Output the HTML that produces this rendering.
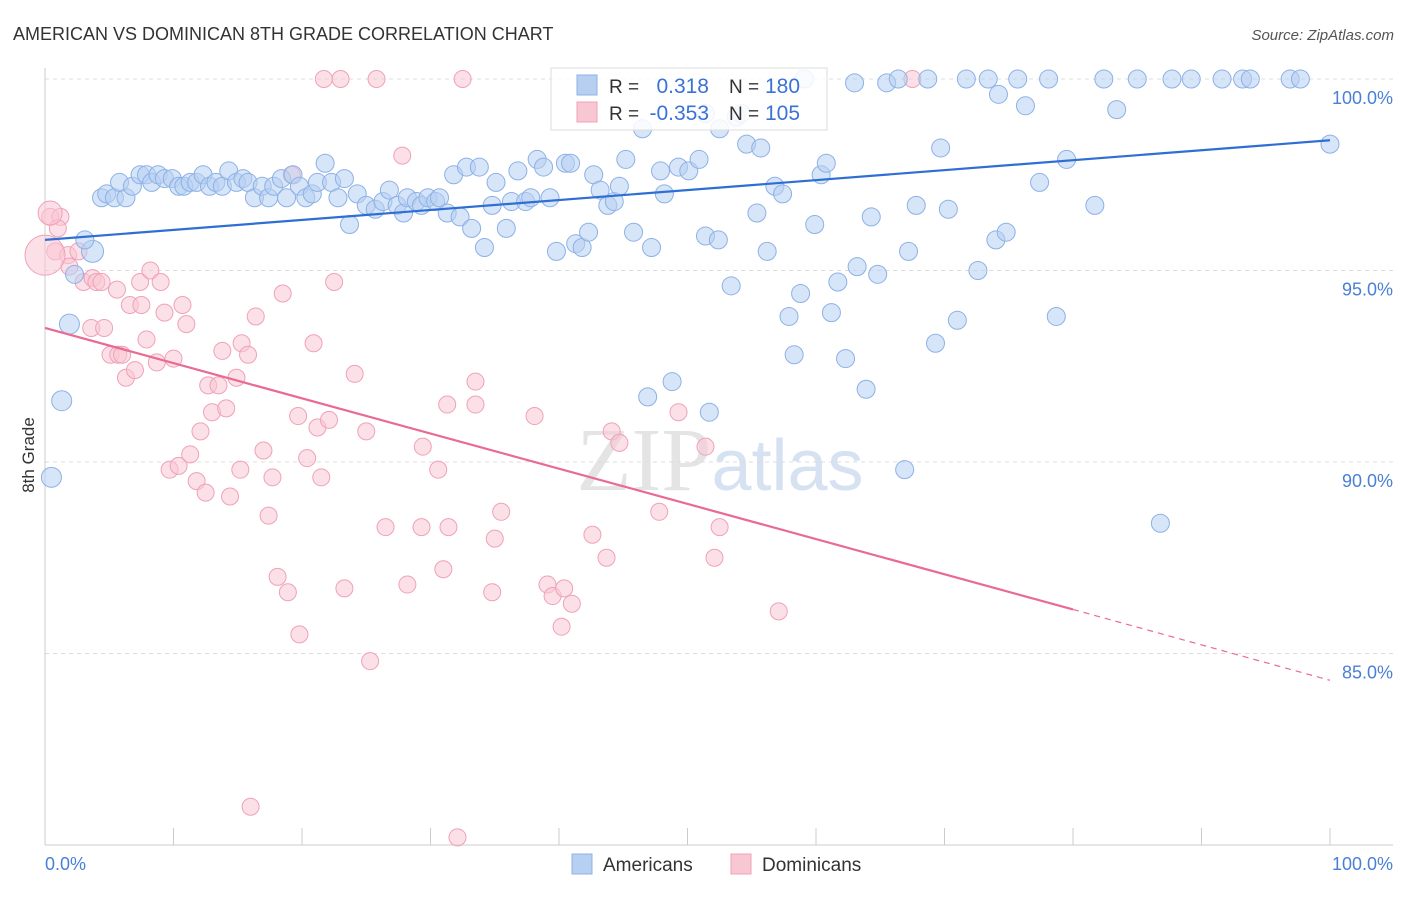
<!DOCTYPE html>
<html><head><meta charset="utf-8"><style>
body{margin:0;background:#fff;width:1406px;height:892px;overflow:hidden;font-family:"Liberation Sans",sans-serif}
</style></head><body>
<svg id="chart" width="1406" height="892" xmlns="http://www.w3.org/2000/svg" style="font-family:'Liberation Sans',sans-serif">
<text x="13" y="40" font-size="18" fill="#333">AMERICAN VS DOMINICAN 8TH GRADE CORRELATION CHART</text>
<text x="1394" y="40" font-size="15" fill="#555" text-anchor="end" font-style="italic">Source: ZipAtlas.com</text>
<text x="720" y="490" font-size="90" fill="#e4e4e4" text-anchor="middle" font-family="Liberation Serif">ZIP<tspan fill="#d6e2f2" font-family="Liberation Sans" font-size="72">atlas</tspan></text>
<g id="grid"></g><g id="axes"></g><g id="pts"></g><g id="trend"></g>
<text transform="translate(34,455) rotate(-90)" font-size="17" fill="#333" text-anchor="middle">8th Grade</text>
<g>
<rect x="551" y="68" width="276" height="62" fill="#fff" fill-opacity="0.85" stroke="#ddd"/>
<rect x="577" y="75" width="20" height="20" fill="#b7d0f2" stroke="#8db1e6"/>
<rect x="577" y="102" width="20" height="20" fill="#f9c6d4" stroke="#f0a1b8"/>
<text x="609" y="93" font-size="19" fill="#333">R =</text><text x="709" y="93" font-size="21" fill="#3a72d6" text-anchor="end">0.318</text>
<text x="729" y="93" font-size="19" fill="#333">N =</text><text x="765" y="93" font-size="21" fill="#3a72d6">180</text>
<text x="609" y="120" font-size="19" fill="#333">R =</text><text x="709" y="120" font-size="21" fill="#3a72d6" text-anchor="end">-0.353</text>
<text x="729" y="120" font-size="19" fill="#333">N =</text><text x="765" y="120" font-size="21" fill="#3a72d6">105</text>
</g>
<g>
<rect x="572" y="854" width="20" height="20" fill="#b7d0f2" stroke="#8db1e6"/>
<text x="603" y="871" font-size="19" fill="#333">Americans</text>
<rect x="731" y="854" width="20" height="20" fill="#f9c6d4" stroke="#f0a1b8"/>
<text x="762" y="871" font-size="19" fill="#333">Dominicans</text>
</g>
</svg>
<script>
const blueX=[0.5,1.3,1.9,3.7,2.3,3.1,4.4,4.8,5.4,6.3,5.8,6.8,7.4,7.9,8.3,8.8,9.3,9.9,10.4,10.8,11.3,11.8,12.3,12.8,13.3,13.8,14.3,14.9,15.4,15.8,16.3,16.9,17.4,17.8,18.4,18.8,19.3,19.8,20.3,20.8,21.2,21.8,22.3,22.8,23.3,23.7,24.3,25.0,25.7,26.3,26.8,27.4,27.9,28.2,28.9,29.3,29.8,30.4,30.7,31.3,31.8,32.3,32.8,33.2,33.8,34.2,35.1,34.8,35.9,36.3,36.8,37.4,37.8,38.3,38.8,39.3,39.8,40.5,40.9,41.3,41.8,42.3,42.7,43.2,43.8,44.3,44.7,45.2,45.8,46.5,47.2,47.9,48.2,49.3,50.1,50.9,51.4,52.4,52.5,53.4,53.8,54.6,55.4,55.7,56.2,56.8,57.4,57.9,58.3,58.8,59.9,60.4,60.8,61.2,61.7,62.3,63.2,63.9,64.3,64.8,65.5,66.4,67.2,67.8,68.7,69.3,69.7,70.3,71.0,71.7,72.6,73.4,74.0,74.2,74.8,75.7,76.3,77.4,78.1,78.7,79.5,81.7,82.4,83.4,85.0,86.8,87.7,89.2,91.6,93.2,93.8,96.9,97.7,100,63.0,59.1,51.7,48.8,46.9,66.9,54.2,51.4];
const blueY=[89.6,91.6,93.6,95.5,94.9,95.8,96.9,97.0,96.9,96.9,97.3,97.2,97.5,97.5,97.3,97.5,97.4,97.4,97.2,97.2,97.3,97.3,97.5,97.2,97.3,97.2,97.6,97.3,97.4,97.3,96.9,97.2,96.9,97.2,97.4,96.9,97.5,97.2,96.9,97.0,97.3,97.8,97.3,96.9,97.4,96.2,97.0,96.7,96.6,96.8,97.1,96.7,96.5,96.9,96.8,96.7,96.9,96.8,96.9,96.5,97.5,96.4,97.7,96.1,97.7,95.6,97.3,96.7,96.1,96.8,97.6,96.8,96.9,97.9,97.7,96.9,95.5,97.8,97.8,95.7,95.6,96.0,97.5,97.1,96.7,96.8,97.2,97.9,96.0,98.7,95.6,97.6,97.0,97.7,97.6,97.9,95.9,95.8,98.7,94.6,99.0,98.3,96.5,98.2,95.5,97.2,97.0,93.8,92.8,94.4,96.2,97.5,97.8,93.9,94.7,92.7,95.1,91.9,96.4,94.9,99.9,100,95.5,96.7,100,93.1,98.2,96.6,93.7,100,95.0,100,95.8,99.6,96.0,100,99.3,97.3,100,93.8,97.9,96.7,100,99.2,100,88.4,100,100,100,100,100,100,100,98.3,99.9,100,91.3,92.1,91.7,89.8,99.1,99.1];
const pinkX=[0.4,0.8,1.2,1.0,1.8,1.9,2.6,3.0,3.7,4.0,4.4,3.6,4.6,5.1,5.6,5.7,6.0,6.3,6.6,7.0,7.4,7.5,7.9,8.2,8.7,9.0,9.3,9.7,10.0,10.4,10.7,11.0,11.3,11.8,12.1,12.5,12.7,13.0,13.5,13.8,14.1,14.4,14.9,15.2,15.3,15.8,16.4,17.0,17.4,17.7,18.1,18.5,18.9,19.2,19.7,19.8,20.4,20.9,21.2,21.5,21.7,22.1,22.5,23.0,23.3,24.1,25.0,25.3,25.8,26.5,27.8,28.2,29.3,29.4,30.6,31.0,31.3,31.4,32.5,33.5,33.5,34.8,35.0,35.5,38.1,39.1,39.5,40.2,40.4,41.0,42.6,43.7,44.1,44.7,47.8,49.3,51.4,52.1,52.5,57.1,16.0,32.1,67.5];
const pinkY=[96.4,95.5,96.4,96.1,95.4,95.1,95.5,94.7,94.8,94.7,94.7,93.5,93.5,92.8,94.5,92.8,92.8,92.2,94.1,92.4,94.7,94.1,93.2,95.0,92.6,94.7,93.9,89.8,92.7,89.9,94.1,93.6,90.2,89.5,90.8,89.2,92.0,91.3,92.0,92.9,91.4,89.1,92.2,89.8,93.1,92.8,93.8,90.3,88.6,89.6,87.0,94.4,86.6,97.5,91.2,85.5,90.1,93.1,90.9,89.6,100,91.1,94.7,100,86.7,92.3,90.8,84.8,100,88.3,98.0,86.8,88.3,90.4,89.8,87.2,91.5,88.3,100,92.1,91.5,86.6,88.0,88.7,91.2,86.8,86.5,85.7,86.7,86.3,88.1,87.5,90.8,90.5,88.7,91.3,90.4,87.5,88.3,86.1,81.0,80.2,100];
const bigPink=[[0,95.4,20],[0.4,96.5,12]];
const blueTrend=[95.8,98.4];
const pinkTrend=[93.5,86.15,84.3]; // at x=0, 80, 100
const yTicks=[100,95,90,85];

const X=v=>45+v*12.85, Y=v=>79+(100-v)*38.3;
const NS="http://www.w3.org/2000/svg";
function mk(tag,parent,attrs){const e=document.createElementNS(NS,tag);for(const k in attrs)e.setAttribute(k,attrs[k]);parent.appendChild(e);return e;}
const grid=document.getElementById('grid'),axes=document.getElementById('axes'),pts=document.getElementById('pts'),trend=document.getElementById('trend');
yTicks.forEach(t=>{
 const l=mk('line',grid,{x1:45,x2:1393,y1:Y(t),y2:Y(t),stroke:'#dcdcdc','stroke-dasharray':'4,4'});
 
 
 const tx=mk('text',grid,{x:1393,y:Y(t)+25,'font-size':18,fill:'#4a7fd6','text-anchor':'end'});
 tx.textContent=t.toFixed(1)+'%';
 
 
});
mk('line',axes,{x1:45,x2:45,y1:68,y2:845,stroke:'#ccc'});
mk('line',axes,{x1:45,x2:1393,y1:845,y2:845,stroke:'#ccc'});
for(let i=1;i<=10;i++){const t=mk('line',axes,{x1:X(i*10),x2:X(i*10),y1:828,y2:845,stroke:'#ccc'});
 
 }
const x0=mk('text',axes,{x:45,y:870,'font-size':18,fill:'#4a7fd6'});x0.textContent='0.0%';


const x1=mk('text',axes,{x:1393,y:870,'font-size':18,fill:'#4a7fd6','text-anchor':'end'});x1.textContent='100.0%';


pinkX.forEach((v,i)=>{const c=mk('circle',pts,{cx:X(v),cy:Y(pinkY[i]),r:8.5,fill:'#f9c6d4','fill-opacity':0.55,stroke:'#f0a1b8'});
 
 });
bigPink.forEach(p=>{const c=mk('circle',pts,{cx:X(p[0]),cy:Y(p[1]),r:p[2],fill:'#f9c6d4','fill-opacity':0.55,stroke:'#f0a1b8'});
 
 });
blueX.forEach((v,i)=>{const c=mk('circle',pts,{cx:X(v),cy:Y(blueY[i]),r:(i===3?11:(i<3?10:9)),fill:'#b7d0f2','fill-opacity':0.55,stroke:'#8db1e6'});
 
 });
const bt=mk('line',trend,{x1:X(0),y1:Y(blueTrend[0]),x2:X(100),y2:Y(blueTrend[1]),stroke:'#2f6fd3','stroke-width':2.2});


const pt=mk('line',trend,{x1:X(0),y1:Y(pinkTrend[0]),x2:X(80),y2:Y(pinkTrend[1]),stroke:'#e96a94','stroke-width':2.2});


const pd=mk('line',trend,{x1:X(80),y1:Y(pinkTrend[1]),x2:X(100),y2:Y(pinkTrend[2]),stroke:'#e96a94','stroke-width':1.2,'stroke-dasharray':'6,5'});


</script>
</body></html>
